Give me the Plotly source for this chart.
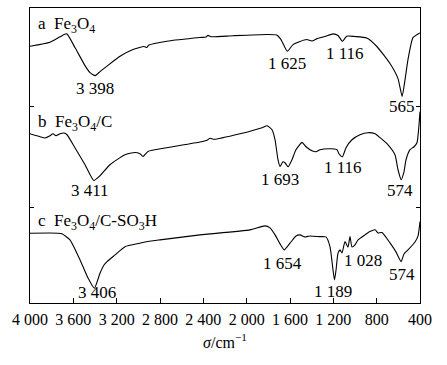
import plotly.graph_objects as go

# Wavenumbers (cm-1) and relative transmittance
wn_a = [4000, 3815, 3723, 3661, 3585, 3492, 3446, 3398, 3354, 3292, 3169, 3049, 2948, 2923, 2902,
        2738, 2431, 2375, 2357, 2329, 2126, 1815, 1723, 1683, 1625, 1572, 1508, 1446, 1397, 1354,
        1277, 1200, 1157, 1116, 1077, 1000, 892, 800, 677, 603, 565, 538, 511, 465, 400]
t_a = [2.611, 2.652, 2.707, 2.737, 2.598, 2.414, 2.343, 2.312, 2.353, 2.407, 2.509, 2.577, 2.608, 2.598, 2.623,
       2.662, 2.700, 2.705, 2.722, 2.708, 2.718, 2.730, 2.725, 2.679, 2.560, 2.628, 2.659, 2.679, 2.664, 2.686,
       2.710, 2.737, 2.720, 2.662, 2.713, 2.710, 2.696, 2.611, 2.435, 2.282, 2.101, 2.272, 2.475, 2.699, 2.747]

wn_b = [4000, 3908, 3862, 3815, 3788, 3760, 3723, 3686, 3658, 3585, 3492, 3411, 3354, 3262, 3123,
        3031, 2985, 2957, 2911, 2754, 2431, 2366, 2338, 2302, 2062, 1858, 1812, 1766, 1738, 1711,
        1692, 1665, 1646, 1618, 1582, 1545, 1489, 1452, 1397, 1360, 1323, 1231, 1166, 1148, 1116,
        1083, 1028, 954, 880, 815, 769, 695, 631, 603, 574, 548, 529, 492, 455, 428, 400]
t_b = [1.721, 1.691, 1.678, 1.701, 1.721, 1.701, 1.721, 1.729, 1.711, 1.579, 1.406, 1.246, 1.294, 1.406, 1.508,
       1.531, 1.518, 1.490, 1.541, 1.576, 1.637, 1.655, 1.675, 1.665, 1.721, 1.783, 1.803, 1.762, 1.660, 1.457,
       1.388, 1.436, 1.426, 1.385, 1.457, 1.559, 1.633, 1.589, 1.548, 1.538, 1.559, 1.569, 1.559, 1.518, 1.487,
       1.579, 1.660, 1.711, 1.732, 1.721, 1.681, 1.609, 1.508, 1.355, 1.253, 1.334, 1.457, 1.559, 1.589, 1.630, 1.946]

wn_c = [4000, 3742, 3705, 3631, 3538, 3465, 3406, 3354, 3317, 3289, 3215, 3123, 2985, 2938, 2800,
        2431, 2338, 1969, 1831, 1785, 1738, 1692, 1654, 1600, 1545, 1508, 1462, 1415, 1323, 1268,
        1231, 1203, 1189, 1175, 1157, 1138, 1120, 1092, 1065, 1046, 1028, 1000, 972, 908, 862,
        815, 788, 751, 677, 622, 574, 548, 511, 446, 418, 400]
t_c = [0.710, 0.710, 0.703, 0.642, 0.438, 0.255, 0.150, 0.303, 0.387, 0.421, 0.489, 0.573, 0.608, 0.621, 0.642,
       0.693, 0.703, 0.744, 0.784, 0.764, 0.693, 0.601, 0.540, 0.608, 0.682, 0.693, 0.672, 0.682, 0.675, 0.672,
       0.573, 0.336, 0.234, 0.336, 0.506, 0.540, 0.509, 0.624, 0.567, 0.675, 0.570, 0.591, 0.642, 0.693, 0.726,
       0.744, 0.713, 0.716, 0.611, 0.520, 0.421, 0.499, 0.540, 0.621, 0.682, 0.828]

x_tickvals = [4000, 3600, 3200, 2800, 2400, 2000, 1600, 1200, 800, 400]
x_ticktext = ["4 000", "3 600", "3 200", "2 800", "2 400", "2 000", "1 600", "1 200", "800", "400"]

series_names = ["a  Fe<sub>3</sub>O<sub>4</sub>",
                "b  Fe<sub>3</sub>O<sub>4</sub>/C",
                "c  Fe<sub>3</sub>O<sub>4</sub>/C-SO<sub>3</sub>H"]

peak_text = ["3 398", "1 625", "1 116", "565",
             "3 411", "1 693", "1 116", "574",
             "3 406", "1 654", "1 189", "1 028", "574"]
# label positions (x in cm-1, y in plot units)
peak_x = [3398, 1628, 1092, 566, 3446, 1692, 1111, 585, 3384, 1665, 1203, 926, 569]
peak_y = [2.185, 2.440, 2.540, 1.995, 1.140, 1.255, 1.375, 1.140, 0.105, 0.400, 0.122, 0.428, 0.293]
name_y = [2.832, 1.830, 0.828]

FONT = "Times New Roman, Liberation Serif, serif"

fig = go.Figure()
for wn, t in [(wn_a, t_a), (wn_b, t_b), (wn_c, t_c)]:
    fig.add_trace(go.Scatter(x=wn, y=t, mode="lines", line=dict(color="black", width=1.1),
                             line_shape="spline", line_smoothing=0.5,
                             showlegend=False, hoverinfo="skip"))

annotations = []
for txt, xx, yy in zip(peak_text, peak_x, peak_y):
    annotations.append(dict(x=xx, y=yy, xref="x", yref="y", text=txt, showarrow=False,
                            xanchor="center", yanchor="middle", font=dict(size=17, color="black", family=FONT)))
for txt, yy in zip(series_names, name_y):
    annotations.append(dict(x=3945, y=yy, xref="x", yref="y", text=txt, showarrow=False,
                            xanchor="left", yanchor="middle", font=dict(size=17, color="black", family=FONT)))

fig.update_layout(
    width=447, height=365,
    margin=dict(l=30, r=27, t=8, b=62),
    paper_bgcolor="white", plot_bgcolor="white",
    font=dict(family=FONT, size=16, color="black"),
    annotations=annotations,
    xaxis=dict(range=[4000, 400], tickvals=x_tickvals, showticklabels=False,
               ticks="inside", ticklen=5, tickcolor="black", tickwidth=1,
               showline=True, linecolor="black", linewidth=1, mirror=True,
               showgrid=False, zeroline=False),
    xaxis2=dict(range=[4000, 400], tickvals=x_tickvals, ticktext=x_ticktext,
                overlaying="x", anchor="free", position=0, side="bottom",
                ticks="outside", ticklen=2, tickcolor="rgba(0,0,0,0)",
                showline=False, showgrid=False, zeroline=False,
                tickfont=dict(size=16, family=FONT, color="black"),
                title=dict(text="<i>σ</i>/cm<sup>−1</sup>", font=dict(size=16, family=FONT, color="black"),
                           standoff=9)),
    yaxis=dict(range=[0, 3], tickvals=[0.97, 2.0], showticklabels=False,
               ticks="inside", ticklen=4, tickcolor="black", tickwidth=1,
               showline=True, linecolor="black", linewidth=1, mirror="ticks",
               showgrid=False, zeroline=False),
)
# invisible carrier trace so the label axis is drawn
fig.add_trace(go.Scatter(x=[4000, 400], y=[None, None], xaxis="x2", yaxis="y",
                         mode="lines", showlegend=False, hoverinfo="skip"))

fig.write_html("out.html", config={"displayModeBar": False},
               post_script="document.body.style.margin='0px';")
